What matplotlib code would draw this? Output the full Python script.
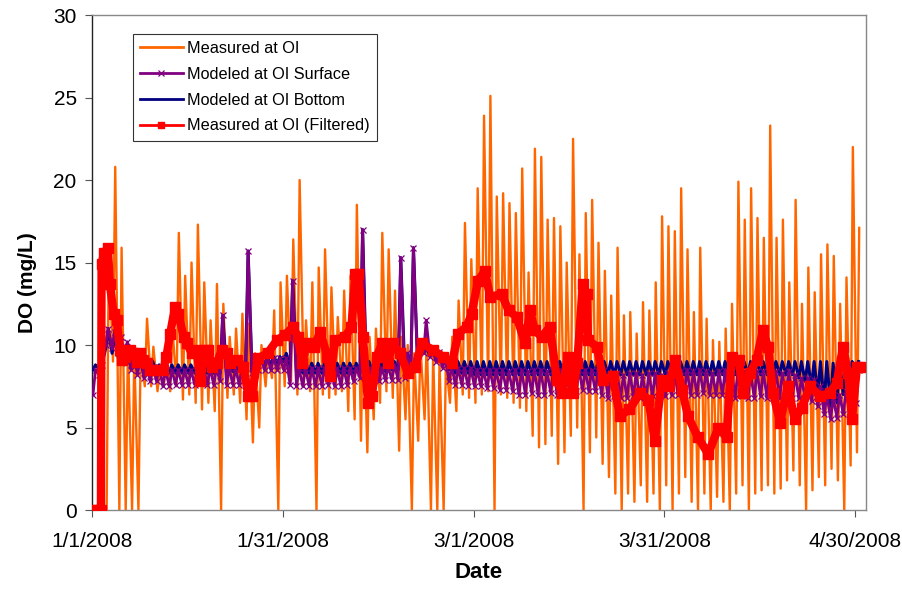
import numpy as np
import matplotlib
matplotlib.use("Agg")
import matplotlib.pyplot as plt

nan = np.nan

# daily high / low of the raw DO record at OI (index = days since 1/1/2008)
meas_hi = [nan, nan,
           16.1, 20.8, 15.9, 10.0, 9.5, 9.5, 11.6, 9.9,
           8.5, 9.2, 11.0, 16.8, 14.2, 15.0, 17.3, 13.8, 11.5, 13.7,
           12.5, 10.5, 11.0, 11.9, 11.3, 9.5, 10.0, 9.5, 12.1, 13.8,
           14.2, 16.4, 20.0, 11.5, 13.8, 14.7, 15.8, 13.5, 11.7, 13.3,
           14.2, 18.5, 12.5, 10.5, 11.0, 16.8, 15.8, 13.3, 10.5, 10.0,
           9.5, 10.0, 10.5, 9.5, 9.0, 9.0, 10.5, 12.7, 17.4, 15.2,
           19.5, 23.9, 25.1, 19.0, 19.2, 18.6, 18.0, 20.7, 14.4, 21.9,
           21.4, 17.6, 17.7, 17.2, 15.0, 22.5, 15.5, 18.0, 18.8, 16.2,
           14.5, 13.0, 15.9, 11.8, 12.0, 10.7, 12.6, 12.1, 13.8, 17.8,
           17.2, 16.9, 19.5, 15.8, 12.0, 15.9, 11.6, 10.3, 10.2, 11.0,
           12.5, 19.9, 17.6, 19.5, 17.7, 16.5, 23.3, 16.5, 17.6, 13.8,
           18.8, 12.5, 14.7, 13.2, 15.5, 16.1, 15.4, 12.5, 14.1, 22.0,
           17.1]
meas_lo = [nan, nan,
           0.0, 9.0, 0.0, 0.0, 0.0, 0.0, 7.5, 7.5,
           7.2, 7.5, 7.2, 7.5, 6.7, 7.0, 6.5, 6.1, 6.5, 6.0,
           0.0, 6.8, 7.0, 6.5, 5.5, 4.1, 5.0, 7.5, 8.0, 0.0,
           7.5, 7.8, 7.0, 7.5, 7.2, 0.0, 7.0, 6.8, 7.0, 7.2,
           6.0, 5.5, 4.2, 3.5, 5.5, 6.5, 7.2, 6.8, 3.6, 5.5,
           0.0, 4.2, 5.5, 0.0, 0.0, 0.0, 6.5, 6.0, 7.0, 6.8,
           6.5, 7.0, 7.2, 0.0, 7.0, 6.8, 6.5, 6.2, 6.0, 4.5,
           3.8, 4.0, 4.5, 2.8, 3.5, 4.5, 5.0, 0.0, 3.5, 4.4,
           2.8, 2.0, 1.0, 0.0, 1.0, 0.5, 1.5, 0.5, 1.0, 0.0,
           1.5, 0.0, 1.0, 2.0, 0.5, 0.0, 1.0, 0.0, 0.8, 0.5,
           0.0, 1.0, 1.5, 0.0, 1.0, 1.2, 1.5, 1.0, 1.3, 1.8,
           2.4, 1.5, 0.0, 1.2, 2.0, 1.5, 2.5, 1.8, 0.0, 2.7,
           3.5]

# modeled surface (daily low / high)
surf_lo = [7.0, 8.2, 10.0, 9.8, 9.5, 9.3, 8.5, 8.2, 8.0, 7.8,
           7.8, 7.5, 7.5, 7.6, 7.6, 7.6, 7.6, 7.7, 7.6, 7.6,
           7.8, 7.6, 7.6, 7.6, 7.8, 8.3, 8.5, 8.5, 8.5, 8.5,
           8.5, 7.6, 7.5, 7.5, 7.5, 7.5, 7.5, 7.6, 7.5, 7.5,
           7.6, 7.8, 8.0, 7.8, 7.8, 7.8, 7.9, 7.9, 7.9, 8.0,
           8.5, 9.3, 9.5, 9.3, 9.0, 8.6, 7.8, 7.6, 7.6, 7.5,
           7.5, 7.5, 7.4, 7.4, 7.3, 7.3, 7.2, 7.0, 7.0, 7.1,
           7.0, 7.0, 7.1, 7.0, 7.0, 7.0, 7.2, 7.3, 7.2, 7.2,
           7.0, 6.8, 6.9, 6.8, 6.8, 6.9, 6.8, 6.8, 6.9, 6.8,
           6.9, 7.0, 7.0, 7.1, 7.0, 7.0, 7.1, 7.0, 7.0, 7.0,
           6.9, 6.8, 6.9, 6.8, 6.8, 6.9, 6.8, 6.8, 6.8, 6.9,
           6.8, 6.8, 6.8, 6.6, 6.3, 5.8, 5.5, 5.6, 5.8, 6.0,
           6.5]
surf_hi = [8.5, 8.8, 11.0, 10.8, 10.5, 10.2, 9.6, 9.2, 9.0, 8.7,
           8.7, 8.5, 8.5, 8.5, 8.5, 8.5, 8.5, 8.6, 8.6, 8.6,
           11.8, 8.6, 8.6, 8.6, 15.7, 9.2, 9.2, 9.2, 9.2, 9.2,
           9.2, 13.9, 8.6, 8.6, 8.6, 8.6, 8.6, 8.6, 8.6, 8.6,
           8.6, 8.6, 17.0, 8.6, 8.6, 8.6, 8.7, 8.8, 15.3, 9.5,
           15.9, 10.0, 11.5, 9.8, 9.6, 9.3, 8.7, 8.6, 8.6, 8.6,
           8.5, 8.5, 8.5, 8.5, 8.5, 8.4, 8.5, 8.5, 8.4, 8.5,
           8.5, 8.4, 8.5, 8.5, 8.4, 8.5, 8.5, 8.5, 8.5, 8.4,
           8.5, 8.3, 8.3, 8.2, 8.3, 8.3, 8.2, 8.3, 8.3, 8.2,
           8.3, 8.5, 8.4, 8.5, 8.4, 8.5, 8.4, 8.3, 8.4, 8.5,
           8.5, 8.4, 8.4, 8.3, 8.4, 8.4, 8.3, 8.4, 8.3, 8.4,
           8.2, 8.0, 8.0, 7.9, 7.5, 7.0, 6.8, 7.0, 7.2, 8.0,
           8.5]

# modeled bottom (daily low / high)
bot_lo = [8.5, 8.5, 9.8, 9.5, 9.2, 8.8, 8.6, 8.5, 8.5, 8.5,
          8.3, 8.3, 8.3, 8.3, 8.3, 8.3, 8.3, 8.3, 8.3, 8.3,
          8.3, 8.3, 8.4, 8.4, 8.5, 8.5, 8.8, 8.8, 8.8, 8.9,
          9.0, 8.7, 8.4, 8.3, 8.3, 8.3, 8.3, 8.3, 8.3, 8.3,
          8.3, 8.3, 8.3, 8.3, 8.3, 8.3, 8.4, 8.5, 8.5, 8.8,
          9.0, 9.5, 9.5, 9.3, 9.0, 8.8, 8.5, 8.3, 8.3, 8.3,
          8.2, 8.2, 8.2, 8.2, 8.2, 8.2, 8.2, 8.2, 8.2, 8.2,
          8.2, 8.2, 8.2, 8.2, 8.2, 8.2, 8.2, 8.2, 8.2, 8.2,
          8.2, 8.2, 8.2, 8.2, 8.2, 8.2, 8.2, 8.2, 8.2, 8.2,
          8.2, 8.2, 8.2, 8.2, 8.2, 8.2, 8.2, 8.2, 8.2, 8.2,
          8.2, 8.2, 8.2, 8.2, 8.2, 8.2, 8.2, 8.2, 8.2, 8.2,
          8.2, 8.0, 7.8, 7.5, 7.0, 6.5, 6.3, 6.5, 7.0, 8.0,
          8.2]
bot_hi = [8.8, 8.8, 11.0, 10.5, 10.0, 9.5, 9.0, 9.0, 9.0, 9.0,
          8.8, 8.8, 8.8, 8.8, 8.8, 8.8, 8.8, 8.8, 8.8, 8.8,
          11.8, 8.8, 8.8, 8.8, 15.7, 9.0, 9.3, 9.3, 9.3, 9.3,
          9.5, 13.9, 8.9, 8.9, 8.9, 8.9, 8.9, 8.9, 8.9, 8.9,
          8.9, 8.9, 17.0, 9.0, 9.0, 9.0, 9.0, 9.0, 15.3, 9.5,
          15.9, 10.0, 10.0, 9.8, 9.5, 9.3, 9.0, 9.0, 9.0, 9.0,
          9.0, 9.0, 9.0, 9.0, 9.0, 9.0, 9.0, 9.0, 9.0, 9.0,
          9.0, 9.0, 9.0, 9.0, 9.0, 9.0, 9.0, 9.0, 9.0, 9.0,
          9.0, 9.0, 9.0, 9.0, 9.0, 9.0, 9.0, 9.0, 9.0, 9.0,
          9.0, 9.0, 9.0, 9.0, 9.0, 9.0, 9.0, 9.0, 9.0, 9.0,
          9.0, 9.0, 9.0, 9.0, 9.0, 9.0, 9.0, 9.0, 9.0, 9.0,
          9.0, 9.0, 9.0, 9.0, 9.0, 9.0, 8.9, 9.0, 9.0, 9.0,
          9.0]

# filtered measured series
filt_days = [0, 0.7, 1.4, 1.5, 1.9, 2.5, 2.8, 3.4, 3.9, 4.4,
             4.7, 5.2, 6.0, 6.5, 7.0, 7.5, 8.0, 8.6, 9.1, 10.1,
             11.2, 11.7, 12.3, 13.05, 13.6, 14.4, 14.9, 15.7, 16.5, 17.0,
             17.8, 18.3, 18.8, 19.6, 20.4, 21.2, 21.7, 22.8, 23.8, 24.6,
             25.1, 26.1, 27.6, 29.1, 30.3, 31.6, 32.4, 33.0, 33.8, 34.9,
             35.9, 37.0, 37.5, 38.2, 39.8, 40.8, 41.4, 41.9, 42.6, 43.4,
             44.0, 44.8, 45.6, 46.5, 47.3, 48.4, 49.7, 50.8, 51.9, 53.6,
             55.2, 56.6, 57.6, 58.9, 59.7, 60.7, 61.8, 62.6, 64.4, 65.5,
             66.8, 68.1, 68.9, 69.6, 70.7, 72.0, 73.1, 73.9, 74.8, 75.6,
             76.3, 77.2, 77.8, 78.0, 79.4, 80.4, 81.9, 83.0, 84.5, 86.2,
             87.5, 88.5, 89.6, 90.7, 91.7, 92.8, 93.7, 95.3, 96.9, 98.5,
             99.8, 100.6, 101.7, 102.4, 103.5, 104.5, 105.5, 106.3, 107.1, 108.2,
             109.4, 110.5, 111.6, 112.9, 114.5, 116.0, 117.1, 118.1, 118.9, 119.5,
             120.3, 120.7]
filt_do = [0, 0, 0, 14.9, 15.6, 15.9, 13.7, 11.9, 11.5, 9.7,
           9.1, 9.3, 9.7, 9.5, 9.0, 9.5, 9.1, 8.9, 8.5, 8.5,
           8.5, 9.3, 10.7, 12.3, 11.9, 10.5, 10.1, 9.5, 9.7, 7.8,
           9.7, 9.7, 8.7, 8.9, 9.7, 9.5, 8.9, 9.1, 8.7, 6.9,
           6.9, 9.2, 9.5, 10.3, 10.6, 11.1, 10.5, 8.9, 10.1, 9.9,
           10.8, 9.3, 8.1, 10.3, 10.5, 11.1, 14.3, 14.3, 10.5, 6.5,
           6.9, 9.3, 10.1, 8.9, 10.1, 9.5, 8.3, 8.7, 10.1, 9.7,
           9.3, 8.9, 10.7, 11.1, 11.9, 13.9, 14.5, 12.9, 13.1, 12.1,
           11.7, 10.1, 12.1, 10.9, 10.5, 11.1, 7.9, 7.1, 9.3, 7.1,
           8.9, 13.7, 13.1, 10.3, 9.9, 7.9, 8.1, 5.7, 6.1, 7.1,
           6.7, 4.2, 7.9, 7.5, 9.1, 7.3, 5.7, 4.4, 3.4, 5.0,
           4.4, 9.3, 9.1, 7.1, 8.3, 9.1, 10.9, 9.9, 7.1, 5.3,
           7.5, 5.5, 6.2, 7.5, 6.9, 7.1, 7.7, 9.9, 8.3, 5.5,
           8.7, 8.7]

tick_days = [0, 30, 60, 90, 120]
tick_labels = ["1/1/2008", "1/31/2008", "3/1/2008", "3/31/2008", "4/30/2008"]


def daily_path(lo, hi, t_lo, t_hi):
    t, v = [], []
    for d in range(len(lo)):
        if np.isnan(lo[d]):
            continue
        t += [d + t_lo, d + t_hi]
        v += [lo[d], hi[d]]
    return t, v


plt.rcParams['font.family'] = ['Liberation Sans', 'DejaVu Sans']

fig = plt.figure(figsize=(9.03, 5.89), dpi=100)
ax = fig.add_axes([0.1019, 0.134, 0.857, 0.8405])

mt, mv = daily_path(meas_lo, meas_hi, 0.3, 0.65)
bt, bv = daily_path(bot_lo, bot_hi, 0.15, 0.55)
st, sv = daily_path(surf_lo, surf_hi, 0.15, 0.55)

ax.plot(mt, mv, color='#FF6600', lw=1.7, label='Measured at OI', zorder=2)
ax.plot(bt, bv, color='#000080', lw=2.2, label='Modeled at OI Bottom', zorder=3)
ax.plot(st, sv, color='#800080', lw=2.0, marker='x', ms=5, mew=0.9,
        label='Modeled at OI Surface', zorder=4)
ax.plot(filt_days, filt_do, color='#FF0000', lw=6, marker='s', ms=6.5,
        label='Measured at OI (Filtered)', zorder=5)

ax.set_xlim(0, 121.7)
ax.set_ylim(0, 30)
ax.set_yticks(range(0, 31, 5))
ax.set_xticks(tick_days)
ax.set_xticklabels(tick_labels)
ax.tick_params(axis='both', direction='out', length=5, labelsize=15, color='#555555')
ax.tick_params(axis='x', pad=11)
ax.tick_params(axis='y', pad=6)

for s in ax.spines.values():
    s.set_color('#888888')
    s.set_linewidth(1.0)
ax.spines['left'].set_color('#222222')

ax.set_xlabel('Date', fontsize=16, fontweight='bold', labelpad=8)
ax.set_ylabel('DO (mg/L)', fontsize=15, fontweight='bold')
ax.yaxis.set_label_coords(-0.071, 0.46)

h, lab = ax.get_legend_handles_labels()
order = [0, 2, 1, 3]
leg = ax.legend([h[i] for i in order], [lab[i] for i in order],
                loc='upper left', bbox_to_anchor=(0.053, 0.962), borderaxespad=0,
                fontsize=11.7, frameon=True, fancybox=False, handlelength=2.6,
                handletextpad=0.3, labelspacing=0.66, borderpad=0.45)
leg.get_frame().set_edgecolor('black')
leg.get_frame().set_linewidth(0.8)
for lh in leg.get_lines():
    lh.set_linewidth(2.0)
    lh.set_markersize(5)

fig.savefig('out.png', dpi=100)
